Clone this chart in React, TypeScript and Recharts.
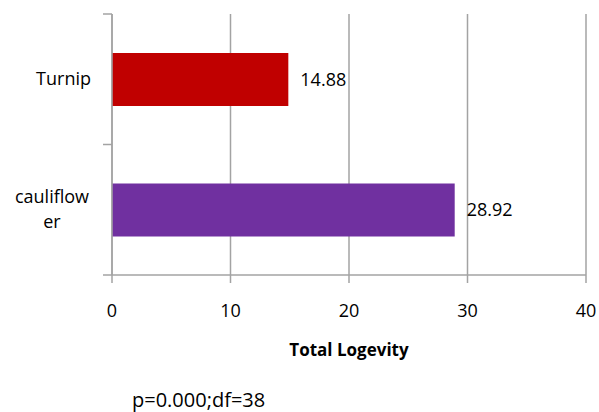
import { BarChart, Bar, XAxis, YAxis, CartesianGrid, LabelList, Label, Cell } from 'recharts'

const categories = ['Turnip', 'cauliflower']
const longevity = [14.88, 28.92]
const barColors = ['#C00000', '#7030A0']
const xTicks = [0, 10, 20, 30, 40]
const axisTitle = 'Total Logevity'
const footNote = 'p=0.000;df=38'

const FONT = '"Open Sans", "DejaVu Sans", sans-serif'
const GRID = '#a3a3a3'

const rows = categories.map((name, i) => ({ name, value: longevity[i] }))

// Excel wraps long category names at ~9 characters
function wrap(label: string): string[] {
  if (label.length <= 9) return [label]
  const out: string[] = []
  for (let i = 0; i < label.length; i += 9) out.push(label.slice(i, i + 9))
  return out
}

// category label plus Excel-style tick marks on the band boundaries
function CategoryTick(props: any) {
  const { x, y, payload, index, visibleTicksCount } = props
  const half = payload.offset ?? 0
  const last = index === (visibleTicksCount ?? categories.length) - 1
  const name = String(payload.value)
  const lines = wrap(name)
  const lh = 25
  const start = y + 6 - ((lines.length - 1) * lh) / 2
  return (
    <g>
      <line x1={x - 9} x2={x} y1={y - half} y2={y - half} stroke={GRID} strokeWidth={1.5} />
      {last && <line x1={x - 9} x2={x} y1={y + half} y2={y + half} stroke={GRID} strokeWidth={1.5} />}
      {lines.length === 1 ? (
        <text x={x - 21} y={y + 6} textAnchor="end" fontSize={18} fontFamily={FONT} fill="#000">
          {name}
        </text>
      ) : (
        <text textAnchor="middle" fontSize={18} fontFamily={FONT} fill="#000">
          {lines.map((l, i) => (
            <tspan key={i} x={x - 60} y={start + i * lh}>{l}</tspan>
          ))}
        </text>
      )}
    </g>
  )
}

function AxisNotes(props: any) {
  const { x, y, width } = props.viewBox
  return (
    <g fontFamily={FONT} fill="#000">
      <text x={x + width / 2} y={y + 81} textAnchor="middle" fontSize={17} fontWeight="bold">
        {axisTitle}
      </text>
      <text x={x + 20} y={y + 132} fontSize={20}>{footNote}</text>
    </g>
  )
}

export default function App() {
  return (
    <div style={{ position: 'absolute', left: 0, top: 0, background: '#fff' }}>
      <BarChart
        layout="vertical"
        width={599}
        height={412}
        data={rows}
        margin={{ top: 14, right: 13, left: 0, bottom: 0 }}
        barSize={53}
      >
        <CartesianGrid horizontal={false} stroke={GRID} strokeWidth={1.5} />
        <XAxis
          type="number"
          domain={[0, 40]}
          ticks={xTicks}
          height={137}
          tickSize={8}
          tickMargin={21}
          axisLine={{ stroke: GRID, strokeWidth: 1.5 }}
          tickLine={{ stroke: GRID, strokeWidth: 1.5 }}
          tick={{ fill: '#000', fontSize: 18, fontFamily: FONT }}
        >
          <Label content={AxisNotes} />
        </XAxis>
        <YAxis
          type="category"
          dataKey="name"
          width={112}
          tickSize={0}
          tickMargin={0}
          tickLine={false}
          axisLine={{ stroke: GRID, strokeWidth: 1.5 }}
          tick={<CategoryTick />}
          interval={0}
        />
        <Bar dataKey="value" isAnimationActive={false}>
          {rows.map((r, i) => (
            <Cell key={r.name} fill={barColors[i]} />
          ))}
          <LabelList
            dataKey="value"
            position="right"
            offset={12}
            fill="#000"
            fontSize={18}
            fontFamily={FONT}
          />
        </Bar>
      </BarChart>
    </div>
  )
}
